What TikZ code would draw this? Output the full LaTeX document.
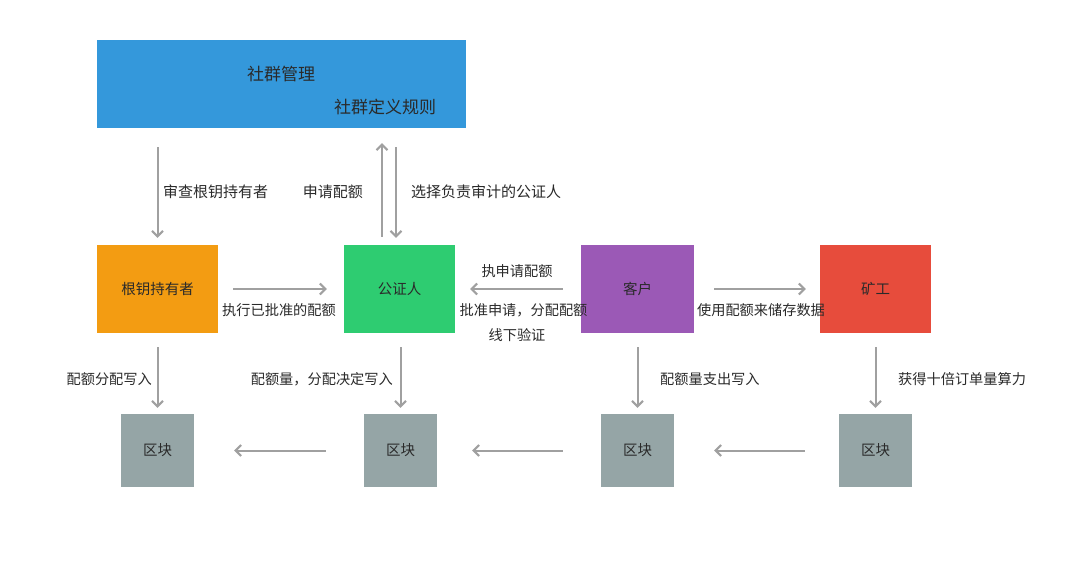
\documentclass[tikz,border=0pt]{standalone}
\usepackage{fontspec}
\setmainfont{Noto Sans CJK SC}
\usetikzlibrary{arrows.meta}
\definecolor{cblue}{HTML}{3498DB}
\definecolor{corange}{HTML}{F39C12}
\definecolor{cgreen}{HTML}{2ECC71}
\definecolor{cpurple}{HTML}{9B59B6}
\definecolor{cred}{HTML}{E74C3C}
\definecolor{cblock}{HTML}{95A5A6}
\definecolor{ctext}{HTML}{2A2A2A}
\definecolor{carrow}{HTML}{A0A0A0}
\begin{document}
\begin{tikzpicture}[x=1pt,y=-1pt,
  box/.style={inner sep=0pt, minimum width=#1, font=\fontsize{14.5}{17}\selectfont, text=ctext},
  actor/.style={box=112pt, minimum height=88pt},
  blockbox/.style={box=73pt, minimum height=73pt, fill=cblock},
  lbl/.style={font=\fontsize{14.2}{17}\selectfont, text=ctext, inner sep=0pt},
  biglbl/.style={lbl, font=\fontsize{15}{18}\selectfont},
  toplbl/.style={lbl, font=\fontsize{17}{20}\selectfont},
  arr/.style={draw=carrow, line width=2pt, -{Straight Barb[length=5.5pt,width=11pt]}}
]
\useasboundingbox[fill=white] (0,0) rectangle (1080,576);

% top box
\node[box=369pt, minimum height=88pt, fill=cblue] (blue) at (281.5,84) {};
\node[toplbl] (t1) at (281,74) {社群管理};
\node[toplbl] (t2) at (385,107) {社群定义规则};

% actors
\node[actor, minimum width=121pt, fill=corange] (orange) at (157.5,289) {根钥持有者};
\node[actor, minimum width=111pt, fill=cgreen] (green) at (399.5,289) {公证人};
\node[actor, minimum width=113pt, fill=cpurple] (purple) at (637.5,289) {客户};
\node[actor, minimum width=111pt, fill=cred] (red) at (875.5,289) {矿工};

% blocks
\node[blockbox] (b1) at (157.5,450.5) {区块};
\node[blockbox] (b2) at (400.5,450.5) {区块};
\node[blockbox] (b3) at (637.5,450.5) {区块};
\node[blockbox] (b4) at (875.5,450.5) {区块};

% top arrows
\draw[arr, shorten <=19pt, shorten >=7pt] (blue.south -| orange.north) -- (orange.north);
\draw[arr, shorten <=8pt, shorten >=15pt] ([xshift=-17.5pt]green.north) -- ([xshift=-17.5pt]green.north |- blue.south);
\draw[arr, shorten <=19pt, shorten >=7pt] ([xshift=-3.5pt]green.north |- blue.south) -- ([xshift=-3.5pt]green.north);
\node[biglbl, anchor=west] (l1) at (163,192) {审查根钥持有者};
\node[biglbl, anchor=east] (l2) at (363,192) {申请配额};
\node[biglbl, anchor=west] (l3) at (411,192) {选择负责审计的公证人};

% middle arrows
\draw[arr, shorten <=15pt, shorten >=17pt] (orange.east) -- (green.west);
\node[lbl] (l4) at (279,310) {执行已批准的配额};
\draw[arr, shorten <=18pt, shorten >=15pt] (purple.west) -- (green.east);
\node[lbl] (l5) at (517,271) {执申请配额};
\node[lbl] (l6) at (523.5,310) {批准申请，分配配额};
\node[lbl] (l7) at (517,335) {线下验证};
\draw[arr, shorten <=20pt, shorten >=14pt] (purple.east) -- (red.west);
\node[lbl] (l8) at (761,310) {使用配额来储存数据};

% down arrows
\draw[arr, shorten <=14pt, shorten >=6pt] (orange.south) -- (b1.north);
\draw[arr, shorten <=14pt, shorten >=6pt] (b2.north |- green.south) -- (b2.north);
\draw[arr, shorten <=14pt, shorten >=6pt] (purple.south) -- (b3.north);
\draw[arr, shorten <=14pt, shorten >=6pt] (red.south) -- (b4.north);
\node[lbl, anchor=east] (l9) at (152,379) {配额分配写入};
\node[lbl, anchor=east] (l10) at (393,379) {配额量，分配决定写入};
\node[lbl, anchor=west] (l11) at (660,379) {配额量支出写入};
\node[lbl, anchor=west] (l12) at (898,379) {获得十倍订单量算力};

% block arrows
\draw[arr, shorten <=34pt, shorten >=40pt] (b4.west) -- (b3.east);
\draw[arr, shorten <=38pt, shorten >=35pt] (b3.west) -- (b2.east);
\draw[arr, shorten <=38pt, shorten >=40pt] (b2.west) -- (b1.east);
\end{tikzpicture}
\end{document}
